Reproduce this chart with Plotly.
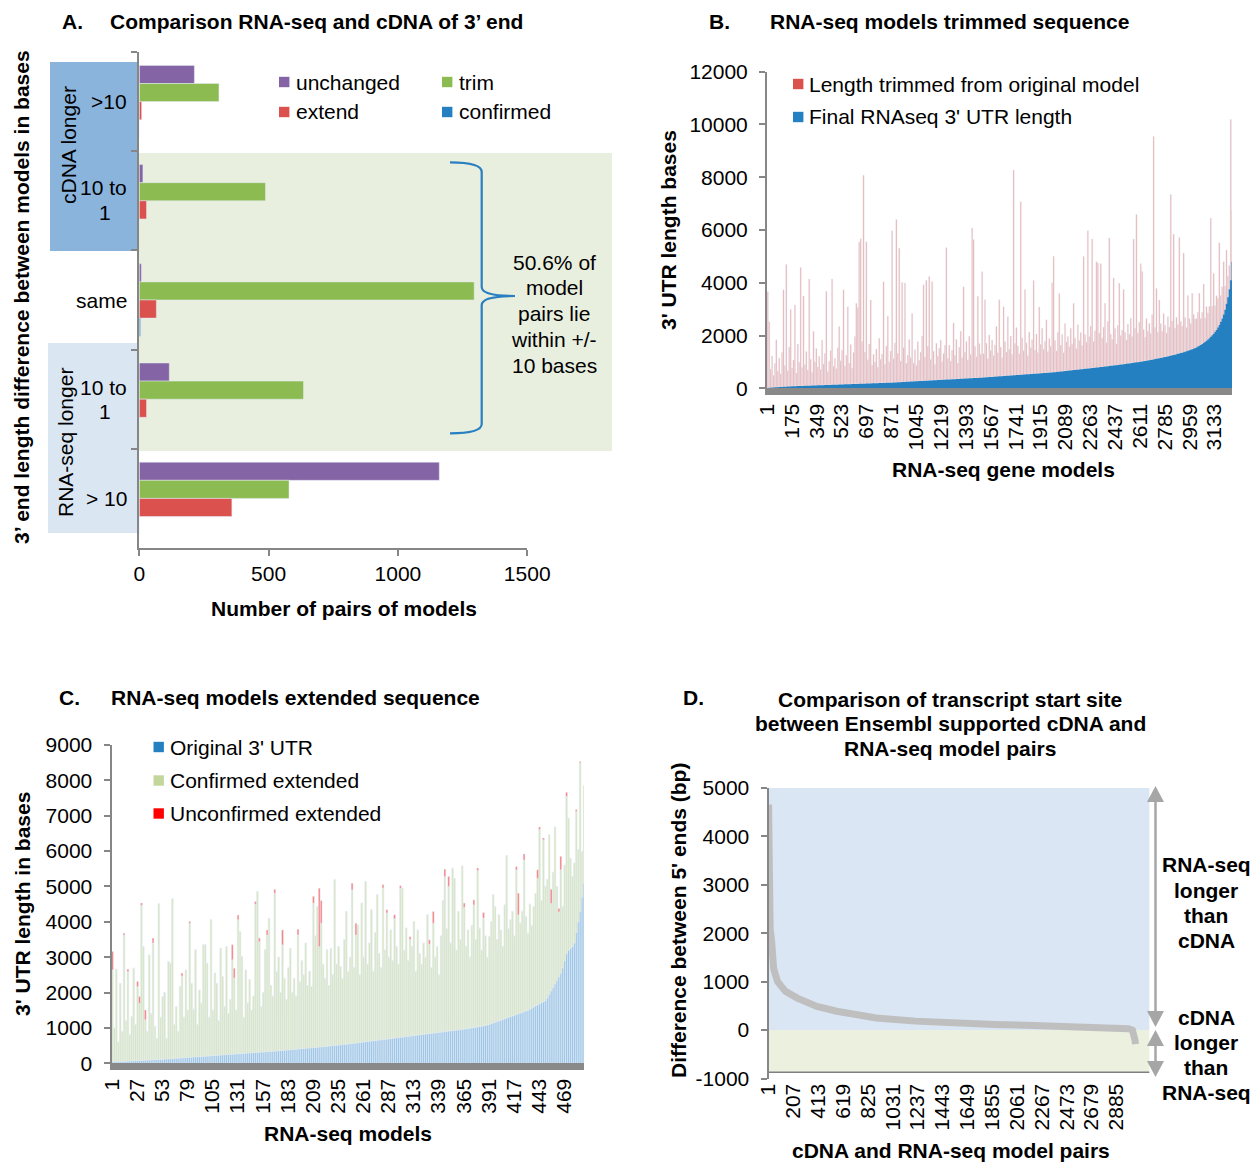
import numpy as np
import plotly.graph_objects as go

W, H = 1253, 1162
FONT = "Liberation Sans, Arial, sans-serif"
GRAY = "#868686"


def px(x):
    return x / W


def py(y):
    return 1 - y / H


# ---------------- Panel A data ----------------
A_cats = ["cDNA >10", "cDNA 10 to 1", "same", "RNA-seq 10 to 1", "RNA-seq > 10"]
A_unchanged = [213, 14, 8, 116, 1160]
A_trim = [308, 488, 1295, 635, 579]
A_extend = [9, 28, 66, 28, 358]
A_confirmed = [0, 0, 5, 0, 0]
A_xticks = [0, 500, 1000, 1500]

# ---------------- Panel B data (every 10th RNA-seq model) ----------------
B_step = 10
B_final = [
    15, 20, 24, 28, 32, 36, 40, 44, 47, 50, 53, 56, 59, 62, 65, 68, 71, 74, 77, 79, 81, 83, 85, 87, 89,
    91, 93, 95, 97, 99, 101, 103, 105, 107, 109, 111, 113, 115, 117, 119, 121, 123, 125, 127, 129, 131, 133, 135, 137, 139,
    141, 143, 145, 147, 149, 151, 153, 155, 157, 159, 161, 163, 165, 167, 169, 171, 173, 175, 177, 179, 181, 183, 185, 187, 189,
    191, 193, 195, 197, 199, 201, 203, 205, 207, 209, 211, 213, 215, 218, 221, 224, 227, 230, 233, 236, 239, 242, 245, 248, 251,
    254, 257, 260, 263, 266, 269, 272, 275, 278, 281, 284, 287, 290, 293, 296, 299, 302, 305, 308, 311, 314, 317, 320, 323, 326,
    329, 332, 335, 338, 341, 344, 347, 350, 353, 356, 359, 362, 365, 368, 371, 374, 377, 380, 383, 386, 389, 392, 395, 398, 401,
    404, 408, 412, 416, 420, 424, 428, 432, 436, 440, 444, 448, 452, 456, 460, 464, 468, 472, 476, 480, 484, 488, 492, 496, 500,
    504, 508, 512, 516, 520, 524, 528, 532, 536, 540, 544, 548, 552, 556, 560, 564, 568, 572, 576, 580, 584, 588, 592, 596, 600,
    605, 611, 617, 623, 629, 635, 641, 647, 653, 659, 665, 671, 677, 683, 689, 695, 701, 707, 713, 719, 725, 731, 737, 743, 749,
    755, 761, 767, 773, 779, 785, 791, 797, 803, 809, 815, 822, 829, 836, 843, 850, 857, 864, 871, 878, 885, 892, 899, 906, 913,
    920, 928, 936, 944, 952, 960, 968, 976, 984, 992, 1000, 1009, 1018, 1027, 1036, 1045, 1055, 1065, 1075, 1085, 1095, 1106, 1117, 1128, 1139,
    1150, 1162, 1174, 1186, 1198, 1210, 1223, 1236, 1249, 1262, 1276, 1290, 1305, 1320, 1336, 1352, 1369, 1386, 1404, 1422, 1441, 1460, 1480, 1500, 1525,
    1550, 1580, 1610, 1645, 1680, 1720, 1760, 1800, 1850, 1900, 1955, 2010, 2070, 2140, 2210, 2300, 2400, 2520, 2650, 2800, 2980, 3200, 3450, 3750, 4100, 4800,
]
B_trimmed = [
    3640, 2500, 700, 1200, 450, 900, 1800, 600, 1100, 500, 1300, 3680, 800, 4630, 600, 1500, 2920, 700, 1000, 3080, 500, 1600, 900, 4490, 700,
    3410, 800, 1300, 600, 4040, 1000, 500, 2060, 900, 1400, 700, 1100, 600, 1700, 800, 1200, 3560, 500, 900, 1300, 4010, 700, 1000, 600, 1400,
    2200, 900, 1300, 3590, 700, 1100, 2940, 800, 1500, 600, 1200, 1800, 3060, 2900, 5370, 5500, 1600, 7900, 1200, 5380, 900, 1500, 3160, 700, 1100,
    800, 1300, 600, 1700, 900, 1100, 3840, 700, 1400, 2520, 800, 1200, 5760, 900, 1500, 6170, 1100, 5080, 800, 3770, 1300, 3750, 700, 1000, 1600,
    900, 2580, 700, 1200, 600, 1500, 800, 1100, 1700, 3640, 900, 3810, 1300, 3940, 800, 3740, 1100, 600, 1400, 900, 1200, 1510, 700, 1000, 1300,
    5000, 800, 1300, 700, 1100, 2130, 900, 1500, 600, 1200, 1800, 800, 3480, 1000, 1400, 700, 1600, 900, 5690, 5250, 1200, 800, 3080, 1300, 900,
    4010, 900, 2940, 1300, 700, 1600, 1000, 1400, 800, 1200, 1900, 900, 2900, 1100, 700, 2630, 1300, 900, 2240, 1000, 1500, 800, 7780, 1200, 1800,
    1100, 800, 6560, 1400, 900, 3220, 1200, 700, 1600, 1000, 1300, 3540, 900, 1500, 800, 2520, 1100, 1700, 900, 1200, 2010, 800, 1300, 1000, 3400,
    4400, 1200, 800, 1500, 2960, 1000, 1400, 700, 1800, 1100, 1300, 900, 1600, 1000, 2530, 1200, 800, 1700, 1100, 1400, 900, 4260, 1300, 1000, 5220,
    1200, 1600, 4890, 1000, 1400, 4010, 3960, 1300, 3920, 1100, 1500, 2400, 900, 1700, 4850, 1200, 1000, 3320, 1400, 800, 1500, 3090, 1100, 1300, 2840,
    1200, 900, 1500, 1100, 1700, 1000, 4690, 1300, 5600, 1100, 1500, 3710, 3410, 1200, 900, 1600, 1100, 1400, 1000, 1700, 8450, 1200, 2670, 1000, 2210,
    1300, 1000, 1660, 1200, 900, 1500, 1100, 6110, 1300, 4580, 1000, 1400, 1100, 4400, 1200, 1000, 3760, 1300, 900, 2100, 1200, 1000, 2120, 1300, 1100,
    1100, 1300, 1990, 1000, 1200, 2230, 900, 1300, 1000, 1200, 4490, 1100, 2290, 1000, 1300, 1100, 3120, 1000, 1200, 2000, 900, 2040, 800, 900, 6090, 1960,
]
B_n_models = 3254
B_ticks = list(range(1, 3134, 174))

# ---------------- Panel C data (every 2nd RNA-seq model) ----------------
C_step = 2
C_original = [
    40, 42, 45, 48, 50, 53, 56, 59, 62, 65, 68, 71, 74, 77, 80, 83, 86, 89, 92, 95, 98, 101, 104, 107, 110,
    113, 116, 119, 122, 126, 130, 134, 138, 142, 146, 150, 154, 158, 162, 166, 170, 174, 178, 182, 186, 190, 194, 198, 202, 206,
    210, 214, 218, 222, 226, 230, 234, 238, 242, 246, 250, 254, 258, 262, 266, 270, 274, 278, 282, 286, 290, 294, 298, 302, 306,
    310, 314, 318, 322, 326, 330, 334, 338, 342, 346, 350, 355, 360, 365, 370, 375, 380, 385, 390, 395, 400, 405, 410, 415, 420,
    425, 430, 435, 440, 445, 450, 455, 460, 465, 470, 476, 482, 488, 494, 500, 506, 512, 518, 524, 530, 536, 542, 548, 554, 560,
    567, 574, 581, 588, 595, 602, 609, 616, 623, 630, 637, 644, 651, 658, 665, 672, 679, 686, 693, 700, 707, 714, 721, 728, 735,
    742, 749, 756, 763, 770, 777, 784, 791, 798, 805, 812, 819, 826, 833, 840, 847, 854, 861, 868, 875, 882, 889, 896, 903, 910,
    917, 924, 931, 938, 945, 952, 960, 968, 976, 984, 992, 1000, 1010, 1020, 1030, 1040, 1050, 1060, 1070, 1085, 1100, 1120, 1140, 1160, 1180,
    1200, 1220, 1240, 1260, 1280, 1300, 1320, 1340, 1360, 1380, 1400, 1420, 1440, 1460, 1480, 1500, 1530, 1560, 1590, 1620, 1650, 1680, 1710, 1740, 1770,
    1850, 1950, 2050, 2150, 2250, 2350, 2450, 2550, 2700, 2900, 3100, 3200, 3250, 3300, 3400, 3700, 4000, 4300, 4700, 5100,
]
# total 3' UTR length after extension (top of each stacked bar)
C_total = [
    3160, 1000, 2660, 600, 2260, 900, 3680, 1200, 2660, 800, 1320, 2690, 1100, 2310, 1890, 4530, 3300, 1510, 900, 3060, 1400, 3540, 1040, 700, 4510,
    1300, 1890, 2000, 700, 2880, 2830, 4650, 1100, 1600, 900, 2170, 2550, 1300, 2640, 1500, 4010, 2260, 1530, 3210, 1100, 2070, 1700, 3350, 3350, 2830,
    1300, 4060, 1500, 2550, 2260, 1200, 3250, 2450, 1600, 3300, 1400, 1800, 3350, 2690, 1500, 4190, 3720, 3020, 1300, 2640, 1700, 2360, 1500, 1900, 4570,
    4860, 3540, 1600, 2000, 3210, 3770, 4100, 2200, 1900, 4920, 2600, 3000, 2000, 3770, 2400, 1800, 2700, 3250, 2000, 2400, 1900, 3790, 2300, 2900, 2500,
    3400, 2200, 2600, 2170, 4720, 3600, 4430, 4950, 4600, 2800, 2400, 3210, 2200, 3250, 2500, 5190, 2800, 3300, 2730, 2400, 3500, 4290, 2600, 3000, 5090,
    2700, 3960, 3910, 2500, 4530, 3000, 5140, 2800, 3400, 4340, 2600, 3700, 4770, 3100, 2700, 5050, 3200, 4340, 3000, 3770, 2900, 4200, 3300, 2800, 5020,
    4950, 3200, 3820, 2900, 3580, 3300, 4010, 2600, 3770, 3100, 2800, 3400, 3000, 4200, 3490, 2700, 4290, 3000, 3300, 2500, 3600, 4600, 5490, 3800, 5280,
    3400, 5520, 5230, 3200, 4290, 3500, 5580, 4530, 3300, 3770, 3000, 3900, 4620, 3500, 5520, 3820, 3200, 4260, 3600, 3000, 3580, 4000, 4770, 4430, 3500,
    4200, 3770, 3300, 4480, 5870, 3800, 4060, 4290, 3600, 5560, 4810, 3960, 4300, 5920, 4150, 3680, 4500, 3900, 4430, 4800, 5470, 6680, 4600, 6370, 5000,
    5200, 6460, 4920, 5400, 6680, 5000, 4380, 5850, 4430, 5600, 7660, 6930, 5800, 5280, 5660, 7170, 6040, 8530, 5990, 7850,
]
C_red_models = [1, 13, 17, 27, 29, 31, 35, 43, 73, 81, 125, 127, 131, 149, 153, 161, 169, 177, 193, 209,
                215, 217, 249, 253, 281, 285, 293, 299, 309, 329, 333, 345, 349, 365, 375, 379, 385, 419,
                421, 427, 441, 443, 447, 455, 463, 465, 471, 481, 485]
C_red_values = [520, 60, 70, 140, 190, 60, 280, 140, 90, 50, 420, 280, 130, 70, 100, 140, 110, 420, 160, 190,
                1650, 640, 190, 330, 90, 90, 110, 70, 80, 120, 330, 210, 280, 120, 140, 70, 150, 90,
                610, 170, 240, 70, 50, 400, 100, 380, 110, 50, 30]
C_n_models = 489
C_ticks = list(range(1, 470, 26))

# ---------------- Panel D data ----------------
D_pairs = [1, 4, 8, 14, 27, 43, 76, 141, 239, 402, 566, 893, 1220, 1547, 1874, 2200, 2527, 2854, 2985, 3018, 3034, 3039, 3044]
D_diff = [4660, 3600, 2600, 2100, 1820, 1270, 1000, 800, 660, 490, 390, 250, 185, 140, 115, 95, 70, 50, 30, 0, -90, -200, -290]
D_n_pairs = 3160
D_ticks = list(range(1, 2886, 206))
D_yticks = [-1000, 0, 1000, 2000, 3000, 4000, 5000]

# ---------------- colours ----------------
PURPLE = "#8464A4"
GREEN = "#8CBB51"
RED = "#DB514D"
BLUE = "#2580C2"
C_GREEN = "#C3D69B"

fig = go.Figure()

# Panel A bars
for name, vals, col in [("unchanged", A_unchanged, PURPLE), ("trim", A_trim, GREEN),
                        ("extend", A_extend, RED), ("confirmed", A_confirmed, BLUE)]:
    fig.add_trace(go.Bar(y=A_cats, x=vals, orientation="h", name=name, marker=dict(color=col),
                         xaxis="x", yaxis="y", showlegend=False, hoverinfo="skip"))

# Panel B: final length as stepped solid area, trimmed length as bars on top
B_x = [1 + B_step * i for i in range(len(B_final))]
fig.add_trace(go.Scatter(x=B_x + [B_n_models + 0.5], y=B_final + [B_final[-1]], mode="lines",
                         line=dict(width=0, shape="hv"), fill="tozeroy", fillcolor=BLUE,
                         name="Final RNAseq 3' UTR length", xaxis="x2", yaxis="y2", showlegend=False,
                         hoverinfo="skip"))
fig.add_trace(go.Bar(x=B_x, y=B_trimmed, base=B_final, width=8, offset=1.0,
                     marker=dict(color="rgba(222,80,75,0.55)"),
                     name="Length trimmed from original model", xaxis="x2", yaxis="y2", showlegend=False,
                     hoverinfo="skip"))

# Panel C bars
C_x = [1 + C_step * i for i in range(len(C_original))]
C_red = np.zeros(len(C_x))
for m, v in zip(C_red_models, C_red_values):
    C_red[(m - 1) // C_step] = v
C_orig = np.array(C_original, dtype=float)
C_conf = np.array(C_total, dtype=float) - C_orig - C_red
fig.add_trace(go.Bar(x=C_x, y=C_orig, width=1.8, offset=-0.4, marker=dict(color="rgb(150,194,229)"),
                     name="Original 3' UTR", xaxis="x3", yaxis="y3", showlegend=False, hoverinfo="skip"))
fig.add_trace(go.Bar(x=C_x, y=C_conf, base=C_orig, width=1.8, offset=-0.4,
                     marker=dict(color="rgb(216,229,192)"),
                     name="Confirmed extended", xaxis="x3", yaxis="y3", showlegend=False, hoverinfo="skip"))
fig.add_trace(go.Bar(x=C_x, y=C_red, base=C_orig + C_conf, width=1.8, offset=-0.4,
                     marker=dict(color="rgb(250,120,120)"),
                     name="Unconfirmed extended", xaxis="x3", yaxis="y3", showlegend=False, hoverinfo="skip"))

# Panel D line
fig.add_trace(go.Scatter(x=D_pairs, y=D_diff, mode="lines", line=dict(color="#BFBFBF", width=7),
                         xaxis="x4", yaxis="y4", showlegend=False, hoverinfo="skip"))

tickfont = dict(family=FONT, size=21, color="black")
common = dict(showgrid=False, zeroline=False, tickfont=tickfont, ticks="outside", ticklen=6,
              tickcolor=GRAY, tickwidth=2, showline=True, linecolor=GRAY, linewidth=2, tickformat="d")
ycommon = dict(common, ticklabelstandoff=7)

layout = dict(
    width=W, height=H, margin=dict(l=0, r=0, t=0, b=0, pad=0, autoexpand=False),
    paper_bgcolor="white", plot_bgcolor="rgba(0,0,0,0)",
    barmode="group", bargap=0.27, bargroupgap=0,
    font=dict(family=FONT, size=21, color="black"),
    xaxis=dict(domain=[px(139.3), px(527.2)], range=[0, 1500], tickvals=A_xticks, anchor="y", **common),
    yaxis=dict(domain=[py(548), py(52)], type="category", categoryorder="array", categoryarray=A_cats,
               autorange="reversed", anchor="x", tickson="boundaries", showticklabels=False,
               **{k: v for k, v in common.items() if k not in ("tickfont", "tickformat")}),
    xaxis2=dict(domain=[px(767), px(1232)], range=[0.5, B_n_models + 0.5], tickvals=B_ticks, tickangle=-90,
                anchor="y2", showgrid=False, zeroline=False, tickfont=tickfont, ticks="",
                showline=True, linecolor="#898989", linewidth=7),
    yaxis2=dict(domain=[py(388.3), py(71.7)], range=[0, 12000], dtick=2000, anchor="x2", **ycommon),
    xaxis3=dict(domain=[px(111.5), px(584)], range=[0.5, C_n_models + 0.5], tickvals=C_ticks, tickangle=-90,
                anchor="y3", showgrid=False, zeroline=False, tickfont=tickfont, ticks="",
                showline=True, linecolor="#898989", linewidth=7),
    yaxis3=dict(domain=[py(1063.3), py(745)], range=[0, 9000], dtick=1000, anchor="x3", **ycommon),
    xaxis4=dict(domain=[px(768.5), px(1149.6)], range=[0.5, D_n_pairs + 0.5], tickvals=D_ticks, tickangle=-90,
                anchor="y4", showgrid=False, zeroline=False, tickfont=tickfont, ticks="", showline=False),
    yaxis4=dict(domain=[py(1078.5), py(788)], range=[-1000, 5000], tickvals=D_yticks,
                ticktext=[str(v) for v in D_yticks], anchor="x4", **ycommon),
)
fig.update_layout(**layout)

ann = []


def text(t, x, y, size=21, bold=False, xanchor="center", angle=0, color="black"):
    if bold:
        t = "<b>" + t + "</b>"
    ann.append(dict(text=t, x=px(x), y=py(y), xref="paper", yref="paper", showarrow=False,
                    xanchor=xanchor, yanchor="middle", textangle=angle,
                    font=dict(family=FONT, size=size, color=color)))


# Titles
text("A.", 60, 21, bold=True, xanchor="left")
text("Comparison RNA-seq and cDNA of 3\u2019 end", 108, 21, bold=True, xanchor="left")
text("B.", 707, 21, bold=True, xanchor="left")
text("RNA-seq models trimmed sequence", 768, 21, bold=True, xanchor="left")
text("C.", 57, 697, bold=True, xanchor="left")
text("RNA-seq models extended sequence", 109, 697, bold=True, xanchor="left")
text("D.", 681, 697, bold=True, xanchor="left")
for i, line in enumerate(["Comparison of transcript start site", "between Ensembl supported cDNA and",
                          "RNA-seq model pairs"]):
    text(line, 950, 699 + 24.5 * i, bold=True)

# Axis titles
text("3\u2019 end length difference between models in bases", 22, 297, bold=True, angle=-90)
text("Number of pairs of models", 344, 608, bold=True)
text("3' UTR length bases", 669, 230, bold=True, angle=-90)
text("RNA-seq gene models", 1003, 470, bold=True)
text("3' UTR length in bases", 22, 904, bold=True, angle=-90)
text("RNA-seq models", 348, 1133, bold=True)
text("Difference between 5' ends (bp)", 678, 921, bold=True, angle=-90)
text("cDNA and RNA-seq model pairs", 951, 1150, bold=True)

# Panel A category labels
text(">10", 128.6, 101.5, xanchor="right")
text("10 to", 128.6, 188, xanchor="right")
text("1", 105, 212)
text("same", 128.6, 300, xanchor="right")
text("10 to", 128.6, 387, xanchor="right")
text("1", 105, 411)
text("> 10", 128.6, 498, xanchor="right")
text("cDNA longer", 68, 145, angle=-90)
text("RNA-seq longer", 66, 443, angle=-90)
for i, line in enumerate(["50.6% of", "model", "pairs lie", "within +/-", "10 bases"]):
    text(line, 554, 262 + 25.8 * i)

# Panel D side labels
for i, line in enumerate(["RNA-seq", "longer", "than", "cDNA"]):
    text(line, 1206, 865 + 25 * i, bold=True)
for i, line in enumerate(["cDNA", "longer", "than", "RNA-seq"]):
    text(line, 1206, 1017 + 25 * i, bold=True)

# Legends (manual)
legend_items = [
    ("unchanged", PURPLE, 279, 82), ("trim", GREEN, 442, 82),
    ("extend", RED, 279, 112), ("confirmed", BLUE, 442, 112),
    ("Length trimmed from original model", RED, 793, 84), ("Final RNAseq 3' UTR length", BLUE, 793, 117),
    ("Original 3' UTR", BLUE, 153.5, 747), ("Confirmed extended", C_GREEN, 153.5, 780.5),
    ("Unconfirmed extended", "#FF0000", 153.5, 813.5),
]
shapes = []


def rect(x0, y0, x1, y1, color, layer="below", line=None):
    shapes.append(dict(type="rect", xref="paper", yref="paper", x0=px(x0), x1=px(x1), y0=py(y1), y1=py(y0),
                       fillcolor=color, line=dict(width=0) if line is None else line, layer=layer))


for label, col, x0, yc in legend_items:
    rect(x0, yc - 5.2, x0 + 10.4, yc + 5.2, col, layer="above")
    text(label, x0 + 14.5, yc, xanchor="left")

# Panel A background boxes
rect(139, 153, 612, 451, "#E8EFDE")
rect(50, 62, 138, 251, "#8AB4DC")
rect(48, 343, 138, 533, "#DAE6F2")


def P(x, y):
    return f"{px(x):.5f},{py(y):.5f}"


# Brace
brace = (f"M {P(450,162.3)} Q {P(481.7,162.3)} {P(481.7,172)} L {P(481.7,287)} "
         f"Q {P(481.7,296)} {P(515,296)} M {P(515,296)} Q {P(481.7,296)} {P(481.7,305)} "
         f"L {P(481.7,424)} Q {P(481.7,433.3)} {P(450,433.3)}")
shapes.append(dict(type="path", xref="paper", yref="paper", path=brace,
                   line=dict(color="#2A7FC1", width=2.2), layer="above"))

# Panel D background regions
shapes.append(dict(type="rect", xref="x4", yref="y4", x0=0.5, x1=D_n_pairs + 0.5, y0=0, y1=5000,
                   fillcolor="#DAE6F3", line=dict(width=0), layer="below"))
shapes.append(dict(type="rect", xref="x4", yref="y4", x0=0.5, x1=D_n_pairs + 0.5, y0=-870, y1=0,
                   fillcolor="#EBF1DE", line=dict(width=0), layer="below"))
shapes.append(dict(type="line", xref="x4", yref="y4", x0=0.5, x1=D_n_pairs + 0.5, y0=-870, y1=-870,
                   line=dict(color="#7F7F7F", width=1.5), layer="above"))

# Panel D arrows
AC = "#A6A6A6"


def tri(xc, tip_y, base_y, hw=8.5):
    path = f"M {P(xc, tip_y)} L {P(xc - hw, base_y)} L {P(xc + hw, base_y)} Z"
    shapes.append(dict(type="path", xref="paper", yref="paper", path=path, fillcolor=AC,
                       line=dict(width=0), layer="above"))


XA = 1155.5
shapes.append(dict(type="line", xref="paper", yref="paper", x0=px(XA), x1=px(XA), y0=py(800), y1=py(1016),
                   line=dict(color=AC, width=2.5)))
tri(XA, 786, 802)
tri(XA, 1027, 1011)
shapes.append(dict(type="line", xref="paper", yref="paper", x0=px(XA), x1=px(XA), y0=py(1044), y1=py(1063),
                   line=dict(color=AC, width=2.5)))
tri(XA, 1030, 1046)
tri(XA, 1077, 1061)

fig.update_layout(annotations=ann, shapes=shapes)
fig.write_html("out.html", config={"displayModeBar": False, "staticPlot": True},
               post_script="document.body.style.margin='0';document.body.style.padding='0';"
                           "document.documentElement.style.overflow='hidden';")
